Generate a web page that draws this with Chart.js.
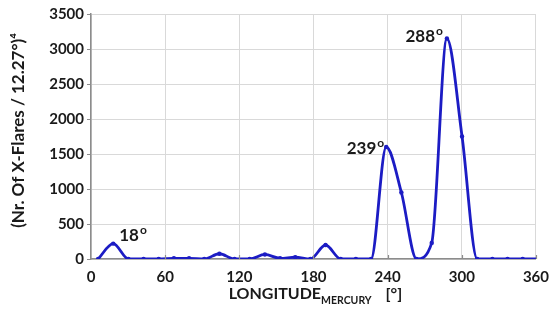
<!DOCTYPE html>
<html>
<head>
<meta charset="utf-8">
<script src="https://cdn.jsdelivr.net/npm/chart.js@4/dist/chart.umd.min.js"></script>
<style>
  html, body { margin: 0; padding: 0; background: #fff; }
  #wrap { position: relative; width: 558px; height: 320px; }
</style>
</head>
<body>
<div id="wrap"><canvas id="c" width="558" height="320"></canvas></div>
<script>
// Heliocentric longitude of Mercury, bin centres (12.27° bins)
const longitudes = [5.73, 18.00, 30.27, 42.54, 54.81, 67.08, 79.35, 91.62, 103.89, 116.16,
  128.43, 140.70, 152.97, 165.24, 177.51, 189.78, 202.05, 214.32, 226.59, 238.86,
  251.13, 263.40, 275.67, 287.94, 300.21, 312.48, 324.75, 337.02, 349.29, 361.56];
// (Number of X-class flares per bin)^4
const flares4 = [0, 220, 0, 0, 0, 10, 10, 0, 75, 0,
  0, 65, 10, 25, 0, 200, 0, 0, 0, 1600,
  950, 0, 230, 3150, 1750, 0, 0, 0, 0, 0];
// Axis ticks
const xTicks = [0, 60, 120, 180, 240, 300, 360];
const yTicks = [0, 500, 1000, 1500, 2000, 2500, 3000, 3500];
// Peaks annotated with their longitude
const peakIndices = [1, 19, 23];

const FONT = 'Lato, "Open Sans", sans-serif';
const BLUE = '#1c1cc4';
const AXIS = '#8c8c8c';
const GRID = '#d9d9d9';

const points = longitudes.map((x, i) => ({ x: x, y: flares4[i] }));

// label placement relative to the peak point: [dx, dy, align]
const peakLabelPlace = {
  1:  [6, -3, 'left'],
  19: [-2, 7, 'right'],
  23: [-4, 3, 'right']
};

const annotate = {
  id: 'annotate',
  afterDatasetsDraw(chart) {
    const ctx = chart.ctx;
    const meta = chart.getDatasetMeta(0);
    ctx.save();
    ctx.fillStyle = '#1a1a1a';
    ctx.textBaseline = 'alphabetic';
    peakIndices.forEach(i => {
      const el = meta.data[i];
      const [dx, dy, align] = peakLabelPlace[i];
      const main = String(Math.round(longitudes[i]));
      ctx.font = 'bold 17px ' + FONT;
      const wMain = ctx.measureText(main).width;
      ctx.font = 'bold 12px ' + FONT;
      const wSup = ctx.measureText('o').width;
      let x0 = el.x + dx;
      if (align === 'right') x0 -= (wMain + 1 + wSup);
      const yb = el.y + dy;
      ctx.font = 'bold 17px ' + FONT;
      ctx.fillText(main, x0, yb);
      ctx.font = 'bold 12px ' + FONT;
      ctx.fillText('o', x0 + wMain + 1, yb - 7);
    });
    ctx.restore();
  },
  afterDraw(chart) {
    const ctx = chart.ctx;
    const xs = chart.scales.x;
    const area = chart.chartArea;
    ctx.save();
    // small inward tick marks on the longitude axis
    ctx.strokeStyle = AXIS;
    ctx.lineWidth = 1.2;
    xTicks.forEach(v => {
      if (v === 0) return;
      const px = Math.round(xs.getPixelForValue(v)) + 0.5;
      ctx.beginPath();
      ctx.moveTo(px, area.bottom);
      ctx.lineTo(px, area.bottom - 4);
      ctx.stroke();
    });
    // vertical axis title
    ctx.fillStyle = '#1a1a1a';
    ctx.translate(19, (area.top + area.bottom) / 2 - 6);
    ctx.rotate(-Math.PI / 2);
    ctx.textAlign = 'center';
    ctx.textBaseline = 'middle';
    ctx.font = 'bold 17px ' + FONT;
    ctx.fillText('(Nr. Of X-Flares / 12.27°)\u2074', 0, 0);
    ctx.restore();

    // horizontal axis title with subscript
    ctx.save();
    ctx.fillStyle = '#1a1a1a';
    ctx.textBaseline = 'alphabetic';
    const partA = 'LONGITUDE', partB = 'MERCURY', partC = '[°]';
    ctx.font = 'bold 16px ' + FONT;
    const wA = ctx.measureText(partA).width;
    const wC = ctx.measureText(partC).width;
    ctx.font = 'bold 10.5px ' + FONT;
    const wB = ctx.measureText(partB).width;
    const gap = 14;
    const total = wA + wB + gap + wC;
    let x = (area.left + area.right) / 2 + 2 - total / 2;
    const base = 299;
    ctx.font = 'bold 16px ' + FONT;
    ctx.fillText(partA, x, base);
    x += wA;
    ctx.font = 'bold 10.5px ' + FONT;
    ctx.fillText(partB, x, base + 5);
    x += wB + gap;
    ctx.font = 'bold 16px ' + FONT;
    ctx.fillText(partC, x, base);
    ctx.restore();
  }
};

new Chart(document.getElementById('c'), {
  type: 'line',
  data: {
    datasets: [{
      data: points,
      borderColor: BLUE,
      backgroundColor: BLUE,
      borderWidth: 2.8,
      cubicInterpolationMode: 'monotone',
      pointRadius: 2.2,
      pointBorderWidth: 0,
      pointBackgroundColor: BLUE,
      fill: false
    }]
  },
  options: {
    responsive: false,
    animation: false,
    devicePixelRatio: 1,
    layout: { padding: { left: 0, right: 21, top: 14, bottom: 0 } },
    plugins: { legend: { display: false }, tooltip: { enabled: false } },
    scales: {
      x: {
        type: 'linear',
        min: 0, max: 360,
        afterBuildTicks: s => { s.ticks = xTicks.map(v => ({ value: v })); },
        afterFit: s => { s.height = 61; },
        grid: { color: GRID, lineWidth: 1, drawTicks: false },
        border: { color: AXIS, width: 1.5 },
        ticks: { color: '#1a1a1a', font: { family: FONT, size: 15, weight: 'bold' }, padding: 9, maxRotation: 0,
                 callback: v => String(v) }
      },
      y: {
        min: 0, max: 3500,
        afterBuildTicks: s => { s.ticks = yTicks.map(v => ({ value: v })); },
        afterFit: s => { s.width = 91; },
        grid: { color: GRID, lineWidth: 1, tickLength: 4, tickColor: AXIS },
        border: { color: AXIS, width: 1.5 },
        ticks: { color: '#1a1a1a', font: { family: FONT, size: 15, weight: 'bold' }, padding: 3,
                 callback: v => String(v) }
      }
    }
  },
  plugins: [annotate]
});
</script>
</body>
</html>
